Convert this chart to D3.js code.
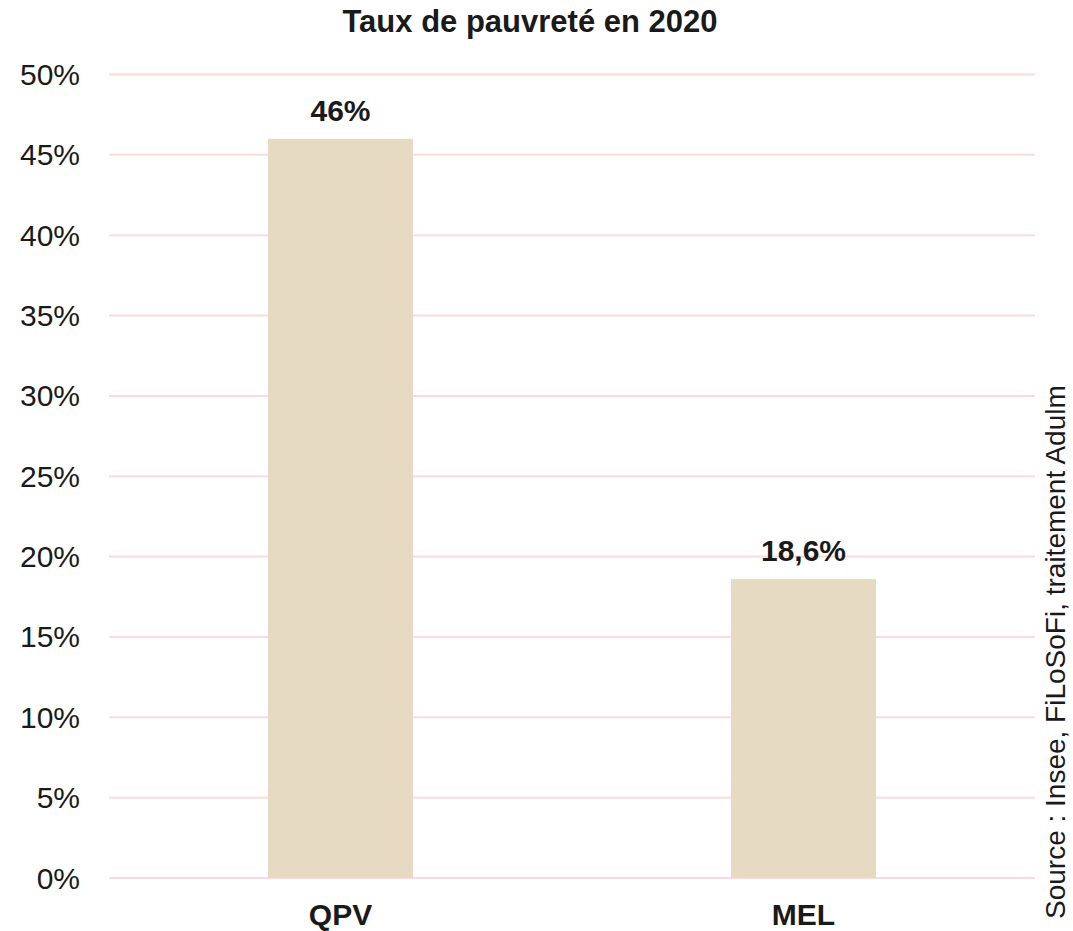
<!DOCTYPE html>
<html lang="fr">
<head>
<meta charset="UTF-8">
<title>Taux de pauvreté en 2020</title>
<script src="https://d3js.org/d3.v7.min.js"></script>
<style>
    body { margin: 0; background: #fff; }
    text { font-family: "Liberation Sans", Arial, sans-serif; fill: #1a1a1a; }
</style>
</head>
<body>
<svg width="1073" height="931"></svg>
<script>
    const categories = ["QPV", "MEL"];
    const values = [46, 18.6];
    const valueLabels = ["46%", "18,6%"];
    const yTicks = [0, 5, 10, 15, 20, 25, 30, 35, 40, 45, 50];

    const width = 1073, height = 931;
    const margin = { top: 74.5, right: 38, bottom: 53, left: 109 };

    const svg = d3.select("svg");

    const x = d3.scaleBand()
        .domain(categories)
        .range([margin.left, width - margin.right])
        .paddingInner(0.6868)
        .paddingOuter(0.3434);

    const y = d3.scaleLinear()
        .domain([0, 50])
        .range([height - margin.bottom, margin.top]);

    // gridlines
    svg.append("g")
        .selectAll("line")
        .data(yTicks)
        .enter().append("line")
        .attr("x1", margin.left)
        .attr("x2", width - margin.right)
        .attr("y1", d => y(d))
        .attr("y2", d => y(d))
        .attr("stroke", "#fadcdc")
        .attr("stroke-width", 2);

    // y tick labels
    svg.append("g")
        .selectAll("text")
        .data(yTicks)
        .enter().append("text")
        .attr("x", 80)
        .attr("y", d => y(d))
        .attr("dy", "0.35em")
        .attr("text-anchor", "end")
        .style("font-size", "30px")
        .text(d => d + "%");

    // bars
    svg.append("g")
        .selectAll("rect")
        .data(values)
        .enter().append("rect")
        .attr("x", (d, i) => x(categories[i]))
        .attr("y", d => y(d))
        .attr("width", x.bandwidth())
        .attr("height", d => y(0) - y(d))
        .attr("fill", "#e6dac3");

    // value labels
    svg.append("g")
        .selectAll("text")
        .data(values)
        .enter().append("text")
        .attr("x", (d, i) => x(categories[i]) + x.bandwidth() / 2)
        .attr("y", d => y(d) - 18)
        .attr("text-anchor", "middle")
        .style("font-size", "30px")
        .style("font-weight", "bold")
        .text((d, i) => valueLabels[i]);

    // category labels
    svg.append("g")
        .selectAll("text")
        .data(categories)
        .enter().append("text")
        .attr("x", d => x(d) + x.bandwidth() / 2)
        .attr("y", 925)
        .attr("text-anchor", "middle")
        .style("font-size", "30px")
        .style("font-weight", "bold")
        .text(d => d);

    // title
    svg.append("text")
        .attr("x", 530)
        .attr("y", 32)
        .attr("text-anchor", "middle")
        .style("font-size", "31px")
        .style("font-weight", "bold")
        .text("Taux de pauvreté en 2020");

    // source, rotated along the right edge
    svg.append("text")
        .attr("transform", "translate(1065, 919) rotate(-90)")
        .attr("text-anchor", "start")
        .style("font-size", "28px")
        .text("Source : Insee, FiLoSoFi, traitement Adulm");
</script>
</body>
</html>
